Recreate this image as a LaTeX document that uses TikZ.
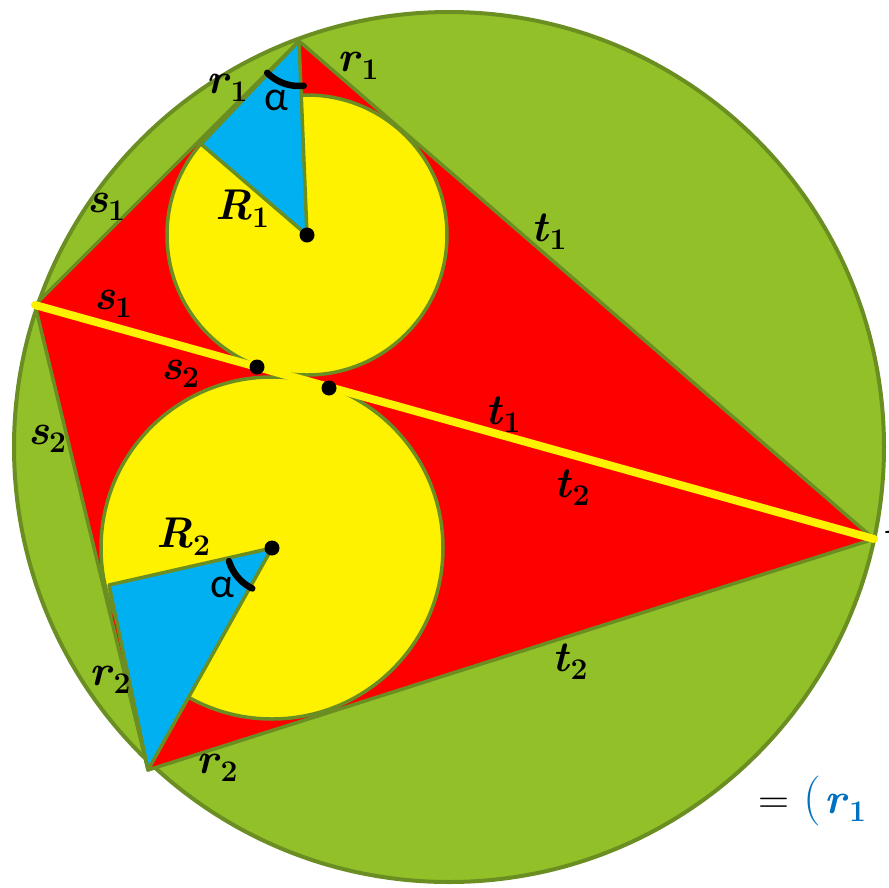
\documentclass[tikz,border=0pt]{standalone}
\usepackage{fontspec}
\newfontfamily\carl{Carlito}
\definecolor{bggreen}{RGB}{146,192,40}
\definecolor{edgecol}{RGB}{107,142,35}
\definecolor{tri}{RGB}{0,176,240}
\definecolor{tblue}{RGB}{0,112,192}
\newcommand{\lb}[2]{\textbf{\textit{#1}}\raisebox{-8pt}{\fontsize{30}{31}\selectfont\textbf{#2}}}
\begin{document}
\begin{tikzpicture}[x=1pt,y=-1pt,
  lab/.style={font=\fontsize{43}{48}\selectfont, inner sep=0pt},
  alab/.style={font=\carl\fontsize{42}{48}\selectfont, inner sep=0pt},
  outl/.style={draw=edgecol, line width=3.5pt, line join=round},
  dotc/.style={fill=black},
  anglearc/.style={line width=6.5pt, line cap=round}]
\useasboundingbox (0,0) rectangle (889,887);
% points
\coordinate (O) at (449,447);
\coordinate (P1) at (299,41);
\coordinate (P2) at (35,305);
\coordinate (P3) at (874,539);
\coordinate (P4) at (148,770);
\coordinate (I1) at (307,235);
\coordinate (I2) at (272,548);
\coordinate (T1) at (201,144);
\coordinate (T2) at (109,585);
\coordinate (D1) at (257,367);
\coordinate (D2) at (329,388);
% big circle
\path[fill=bggreen, outl, line width=4pt] (O) circle[radius=435pt];
% quadrilateral
\path[fill=red, outl] (P1) -- (P3) -- (P4) -- (P2) -- cycle;
% incircles
\path[fill=yellow, outl] (I1) circle[radius=140pt];
\path[fill=yellow, outl] (I2) circle[radius=171pt];
% blue triangles
\path[fill=tri, outl] (P1) -- (T1) -- (I1) -- cycle;
\path[fill=tri, outl] (P4) -- (T2) -- (I2) -- cycle;
% diagonal
\draw[yellow, line width=8pt, line cap=round] (P2) -- (P3);
% dots
\fill[dotc] (I1) circle[radius=7.5pt];
\fill[dotc] (I2) circle[radius=7.5pt];
\fill[dotc] (D1) circle[radius=7.5pt];
\fill[dotc] (D2) circle[radius=7.5pt];
% angle arcs
\draw[anglearc] plot[domain=84:135, samples=30] ({299+45*cos(\x)},{41+45*sin(\x)});
\draw[anglearc] plot[domain=116:163, samples=30] ({272+45*cos(\x)},{548+45*sin(\x)});
% labels
\node[lab] (lr1a) at (358,66) {\lb{r}{1}};
\node[lab] (lr1b) at (227,88) {\lb{r}{1}};
\node[alab] (la1) at (276,100) {α};
\node[lab] (lR1) at (242,209) {\lb{R}{1}};
\node[lab] (ls1a) at (106,207) {\lb{s}{1}};
\node[lab] (lt1a) at (549,232) {\lb{t}{1}};
\node[lab] (ls1b) at (113,304) {\lb{s}{1}};
\node[lab] (ls2a) at (180,374) {\lb{s}{2}};
\node[lab] (lt1b) at (503,415) {\lb{t}{1}};
\node[lab] (ls2b) at (47,439) {\lb{s}{2}};
\node[lab] (lt2a) at (572,488) {\lb{t}{2}};
\node[lab] (lR2) at (183,537) {\lb{R}{2}};
\node[alab] (la2) at (222,587) {α};
\node[lab] (lt2b) at (570,662) {\lb{t}{2}};
\node[lab] (lr2a) at (110,680) {\lb{r}{2}};
\node[lab] (lr2b) at (217,768) {\lb{r}{2}};
\node[lab, anchor=base west] (lA) at (882,533) {\textbf{\textit{A}}};
\node[lab, anchor=base west] (leq) at (758,813) {=\hspace{14pt}{\color{tblue}{\fontsize{50}{52}\selectfont(}\hspace{4pt}\lb{r}{1}}};
\end{tikzpicture}
\end{document}
